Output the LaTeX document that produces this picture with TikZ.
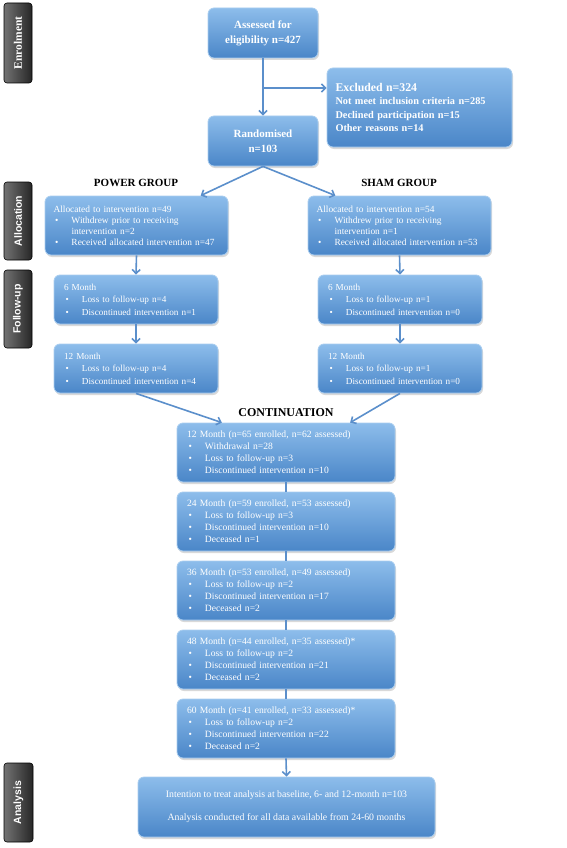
\documentclass[tikz,border=0pt]{standalone}
\usepackage{fontspec}
\setmainfont{Liberation Serif}
\setsansfont{Liberation Sans}
\usepackage{tikz}
\usetikzlibrary{arrows.meta}
\usetikzlibrary{positioning}
\usetikzlibrary{shadows}

\definecolor{boxtop}{HTML}{8DBDEB}
\definecolor{boxbot}{HTML}{4A86C8}
\definecolor{boxline}{HTML}{A9CDEF}
\definecolor{linkblue}{HTML}{5B8FCB}

\newcommand{\itm}[1]{\makebox[18pt][l]{\,\textbullet}\mbox{#1}}

\tikzset{
    box/.style={draw=boxline, line width=0.8pt, rounded corners=6pt,
        top color=boxtop, bottom color=boxbot, text=white,
        drop shadow={shadow xshift=1pt, shadow yshift=-2pt, opacity=0.3},
        inner xsep=10pt, inner ysep=0pt, align=left},
    bigbox/.style={box, align=center, font=\bfseries\fontsize{11}{15}\selectfont},
    tab/.style={draw=black, line width=0.6pt, rounded corners=3pt,
        left color=black!55, right color=black!85, text=white,
        minimum width=80pt, minimum height=28pt, rotate=90,
        font=\sffamily\bfseries\fontsize{10.5}{11}\selectfont},
    group/.style={font=\bfseries\fontsize{11}{12}\selectfont},
    link/.style={draw=linkblue, line width=1.6pt, -{Straight Barb[length=4pt,width=8pt]}},
    joint/.style={draw=linkblue, line width=1.6pt}
}

\begin{document}
\begin{tikzpicture}[x=1pt,y=-1pt]
        \useasboundingbox (0,0) rectangle (567,848);

        % side tabs
        \node[tab, font=\bfseries\fontsize{11.5}{12}\selectfont] (tenrol) at (18,43) {Enrolment};
        \node[tab, minimum width=78pt] (talloc) at (18,221) {Allocation};
        \node[tab, minimum width=78pt] (tfollow) at (18,309) {Follow-up};
        \node[tab, minimum width=79pt, minimum height=29pt] (tanalysis) at (18.5,802.5) {Analysis};

        % enrolment
        \node[bigbox, minimum width=110pt, minimum height=50pt] (assess) at (263,33)
            {Assessed for\\eligibility n=427};
        \node[box, minimum width=185pt, minimum height=79pt, text width=168pt,
            inner xsep=8pt, font=\bfseries\fontsize{10.3}{13.5}\selectfont] (excl) at (419.5,107.5)
            {{\fontsize{11.8}{14.5}\selectfont Excluded n=324}\\
             Not meet inclusion criteria n=285\\
             Declined participation n=15\\
             Other reasons n=14};
        \node[bigbox, minimum width=110pt, minimum height=50pt] (rand) at (263,141)
            {Randomised\\n=103};
        \coordinate (brn) at (263,88);

        % groups
        \node[group] (power) at (136,183) {POWER GROUP};
        \node[group] (sham) at (399,183) {SHAM GROUP};

        \node[box, minimum width=183pt, minimum height=59pt, text width=166pt,
            inner xsep=8.5pt, font=\fontsize{9.4}{11}\selectfont] (allocL) at (136.5,225.5)
            {Allocated to intervention n=49\\
             \itm{Withdrew prior to receiving}\\
             \hspace*{18pt}intervention n=2\\
             \itm{Received allocated intervention n=47}};
        \node[box, minimum width=183pt, minimum height=59pt, text width=166pt,
            inner xsep=8.5pt, font=\fontsize{9.4}{11}\selectfont] (allocR) at (399.5,225.5)
            {Allocated to intervention n=54\\
             \itm{Withdrew prior to receiving}\\
             \hspace*{18pt}intervention n=1\\
             \itm{Received allocated intervention n=53}};

        \node[box, minimum width=164pt, minimum height=49pt, text width=144pt,
            font=\fontsize{9.2}{12.5}\selectfont] (sixL) at (136,299.5)
            {6 Month\\ \itm{Loss to follow-up n=4}\\ \itm{Discontinued intervention n=1}};
        \node[box, minimum width=164pt, minimum height=49pt, text width=144pt,
            font=\fontsize{9.2}{12.5}\selectfont] (sixR) at (400,299.5)
            {6 Month\\ \itm{Loss to follow-up n=1}\\ \itm{Discontinued intervention n=0}};
        \node[box, minimum width=164pt, minimum height=49pt, text width=144pt,
            font=\fontsize{9.2}{12.5}\selectfont] (twL) at (136,368.5)
            {12 Month\\ \itm{Loss to follow-up n=4}\\ \itm{Discontinued intervention n=4}};
        \node[box, minimum width=164pt, minimum height=49pt, text width=144pt,
            font=\fontsize{9.2}{12.5}\selectfont] (twR) at (400,368.5)
            {12 Month\\ \itm{Loss to follow-up n=1}\\ \itm{Discontinued intervention n=0}};

        % continuation
        \node[group, font=\bfseries\fontsize{12}{13}\selectfont] (cont) at (286,413) {CONTINUATION};
        \node[box, minimum width=218pt, minimum height=59pt, text width=198pt,
            font=\fontsize{9.6}{12}\selectfont] (c1) at (286,452.5)
            {12 Month (n=65 enrolled, n=62 assessed)\\
             \itm{Withdrawal n=28}\\ \itm{Loss to follow-up n=3}\\
             \itm{Discontinued intervention n=10}};
        \node[box, minimum width=218pt, minimum height=59pt, text width=198pt,
            font=\fontsize{9.6}{12}\selectfont] (c2) at (286,521.5)
            {24 Month (n=59 enrolled, n=53 assessed)\\
             \itm{Loss to follow-up n=3}\\ \itm{Discontinued intervention n=10}\\
             \itm{Deceased n=1}};
        \node[box, minimum width=218pt, minimum height=59pt, text width=198pt,
            font=\fontsize{9.6}{12}\selectfont] (c3) at (286,590.5)
            {36 Month (n=53 enrolled, n=49 assessed)\\
             \itm{Loss to follow-up n=2}\\ \itm{Discontinued intervention n=17}\\
             \itm{Deceased n=2}};
        \node[box, minimum width=218pt, minimum height=59pt, text width=198pt,
            font=\fontsize{9.6}{12}\selectfont] (c4) at (286,659.5)
            {48 Month (n=44 enrolled, n=35 assessed)*\\
             \itm{Loss to follow-up n=2}\\ \itm{Discontinued intervention n=21}\\
             \itm{Deceased n=2}};
        \node[box, minimum width=218pt, minimum height=59pt, text width=198pt,
            font=\fontsize{9.6}{12}\selectfont] (c5) at (286,728.5)
            {60 Month (n=41 enrolled, n=33 assessed)*\\
             \itm{Loss to follow-up n=2}\\ \itm{Discontinued intervention n=22}\\
             \itm{Deceased n=2}};

        % analysis
        \node[box, align=center, minimum width=297pt, minimum height=60pt,
            font=\fontsize{9.8}{23}\selectfont] (ana) at (286.5,807)
            {Intention to treat analysis at baseline, 6- and 12-month n=103\\
             Analysis conducted for all data available from 24-60 months};

        % connectors
        \draw[link] (assess.south) -- (rand.north);
        \draw[link] (brn) -- (brn -| excl.west);
        \draw[link] (rand.south) -- (allocL.25);
        \draw[link] (rand.south) -- (allocR.155);
        \draw[link] (allocL.south) -- (sixL.north);
        \draw[link] (allocR.south) -- (sixR.north);
        \draw[link] (sixL.south) -- (twL.north);
        \draw[link] (sixR.south) -- (twR.north);
        \draw[link] (twL.south) -- (c1.155);
        \draw[link] (twR.south) -- (c1.25);
        \foreach \a/\b in {c1/c2, c2/c3, c3/c4, c4/c5}
        {
            \draw[joint] (\a.south) -- (\b.north);
        }
        \draw[link] (c5.south) -- (ana.north);
\end{tikzpicture}
\end{document}
